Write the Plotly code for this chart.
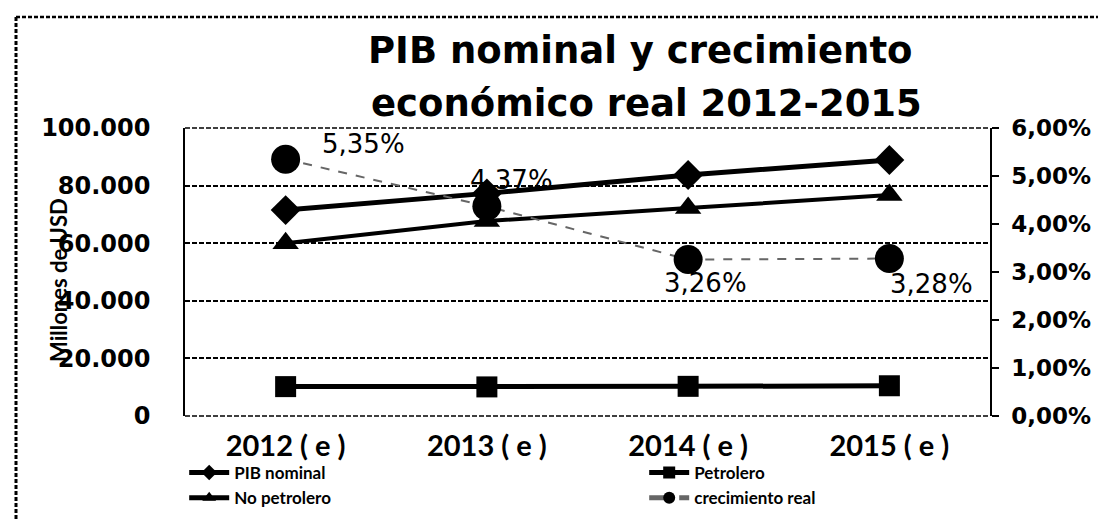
import plotly.graph_objects as go

categories = ["2012 ( e )", "2013 ( e )", "2014 ( e )", "2015 ( e )"]
pib_nominal = [71500, 77300, 83700, 88900]
no_petrolero = [60000, 67700, 72200, 76700]
petrolero = [10200, 10100, 10300, 10500]
crecimiento_real = [0.0535, 0.0437, 0.0326, 0.0328]
crec_labels = ["5,35%", "4,37%", "3,26%", "3,28%"]

W, H = 1106, 519
L, R, T, B = 177, 124, 120, 111
PW, PH = W - L - R, H - T - B


def px_x(p):
    return (p - L) / PW


def px_y(p):
    return (H - B - p) / PH


fig = go.Figure()
fig.add_trace(go.Scatter(x=categories, y=pib_nominal, name="PIB nominal", mode="lines+markers",
                         line=dict(color="black", width=5),
                         marker=dict(symbol="diamond", size=23, color="black")))
fig.add_trace(go.Scatter(x=categories, y=petrolero, name="Petrolero", mode="lines+markers",
                         line=dict(color="black", width=5),
                         marker=dict(symbol="square", size=21, color="black")))
fig.add_trace(go.Scatter(x=categories, y=no_petrolero, name="No petrolero", mode="lines+markers",
                         line=dict(color="black", width=4),
                         marker=dict(symbol="triangle-up", size=23, color="black")))
fig.add_trace(go.Scatter(x=categories, y=crecimiento_real, name="crecimiento real", mode="lines+markers",
                         yaxis="y2", line=dict(color="#666666", width=2, dash="dash"),
                         marker=dict(symbol="circle", size=29, color="black")))

# data labels for crecimiento real, placed on the data coordinates
label_shift = [(78, 15), (25, 26), (17, -23), (42, -25)]
for cat, val, lab, (dx, dy) in zip(categories, crecimiento_real, crec_labels, label_shift):
    fig.add_annotation(x=cat, y=val, xref="x", yref="y2", text=lab, showarrow=False,
                       xshift=dx, yshift=dy, xanchor="center", yanchor="middle",
                       font=dict(family="DejaVu Sans", size=26, color="black"))

font_ticks = dict(family="DejaVu Sans", size=24, color="black", weight="bold")

fig.update_layout(
    width=W, height=H,
    margin=dict(l=L, r=R, t=T, b=B, autoexpand=False),
    paper_bgcolor="white", plot_bgcolor="white",
    separators=",.",
    showlegend=True,
    xaxis=dict(type="category", range=[-0.5, 3.5], showgrid=False,
               showline=False, ticks="", ticklabelstandoff=10,
               tickfont=dict(family="Lato", size=29, color="black", weight="bold")),
    yaxis=dict(range=[0, 100000], dtick=20000, tickformat=",d",
               showgrid=True, gridcolor="black", gridwidth=1.5, griddash="5px,2px",
               showline=True, linecolor="black", linewidth=1.5,
               ticks="", ticklabelstandoff=28, tickfont=font_ticks, zeroline=False),
    yaxis2=dict(range=[0, 0.06], dtick=0.01, tickformat=".2%", overlaying="y", side="right",
                showgrid=False, showline=True, linecolor="black", linewidth=1.5,
                ticks="outside", ticklen=7, tickcolor="black", tickwidth=1.5,
                ticklabelstandoff=8, tickfont=dict(family="DejaVu Sans", size=23, color="black", weight="bold"),
                zeroline=False),
    legend=dict(orientation="h", x=-0.001, xanchor="left", y=px_y(447), yanchor="top",
                entrywidth=405, entrywidthmode="pixels", traceorder="normal",
                itemsizing="constant", itemwidth=40,
                font=dict(family="Lato", size=17, color="black", weight="bold"),
                tracegroupgap=0, bgcolor="rgba(0,0,0,0)"),
)

# dashed top and bottom borders of the plot area
for yy in (0, 1):
    fig.add_shape(type="line", xref="paper", yref="paper", x0=0, x1=1, y0=yy, y1=yy,
                  line=dict(color="black", width=1.5, dash="5px,2px"))
# outer dotted frame (top and left edges)
fig.add_shape(type="line", xref="paper", yref="paper",
              x0=px_x(8), x1=px_x(W), y0=px_y(9), y1=px_y(9),
              line=dict(color="black", width=2.5, dash="4px,2px"))
fig.add_shape(type="line", xref="paper", yref="paper",
              x0=px_x(8), x1=px_x(8), y0=px_y(9), y1=px_y(H),
              line=dict(color="black", width=3, dash="4px,2px"))

# title (two lines)
fig.add_annotation(text="<b>PIB nominal y crecimiento</b>", xref="paper", yref="paper",
                   x=px_x(632), y=px_y(43), showarrow=False, xanchor="center", yanchor="middle",
                   font=dict(family="DejaVu Sans", size=37, color="black"))
fig.add_annotation(text="<b>económico real 2012-2015</b>", xref="paper", yref="paper",
                   x=px_x(638), y=px_y(95), showarrow=False, xanchor="center", yanchor="middle",
                   font=dict(family="DejaVu Sans", size=37, color="black"))

fig.add_annotation(text="<b>Millones de USD</b>", textangle=-90, xref="paper", yref="paper",
                   x=px_x(50), y=px_y(272), showarrow=False, xanchor="center", yanchor="middle",
                   font=dict(family="Lato", size=22, color="black"))

fig.write_html("out.html")
